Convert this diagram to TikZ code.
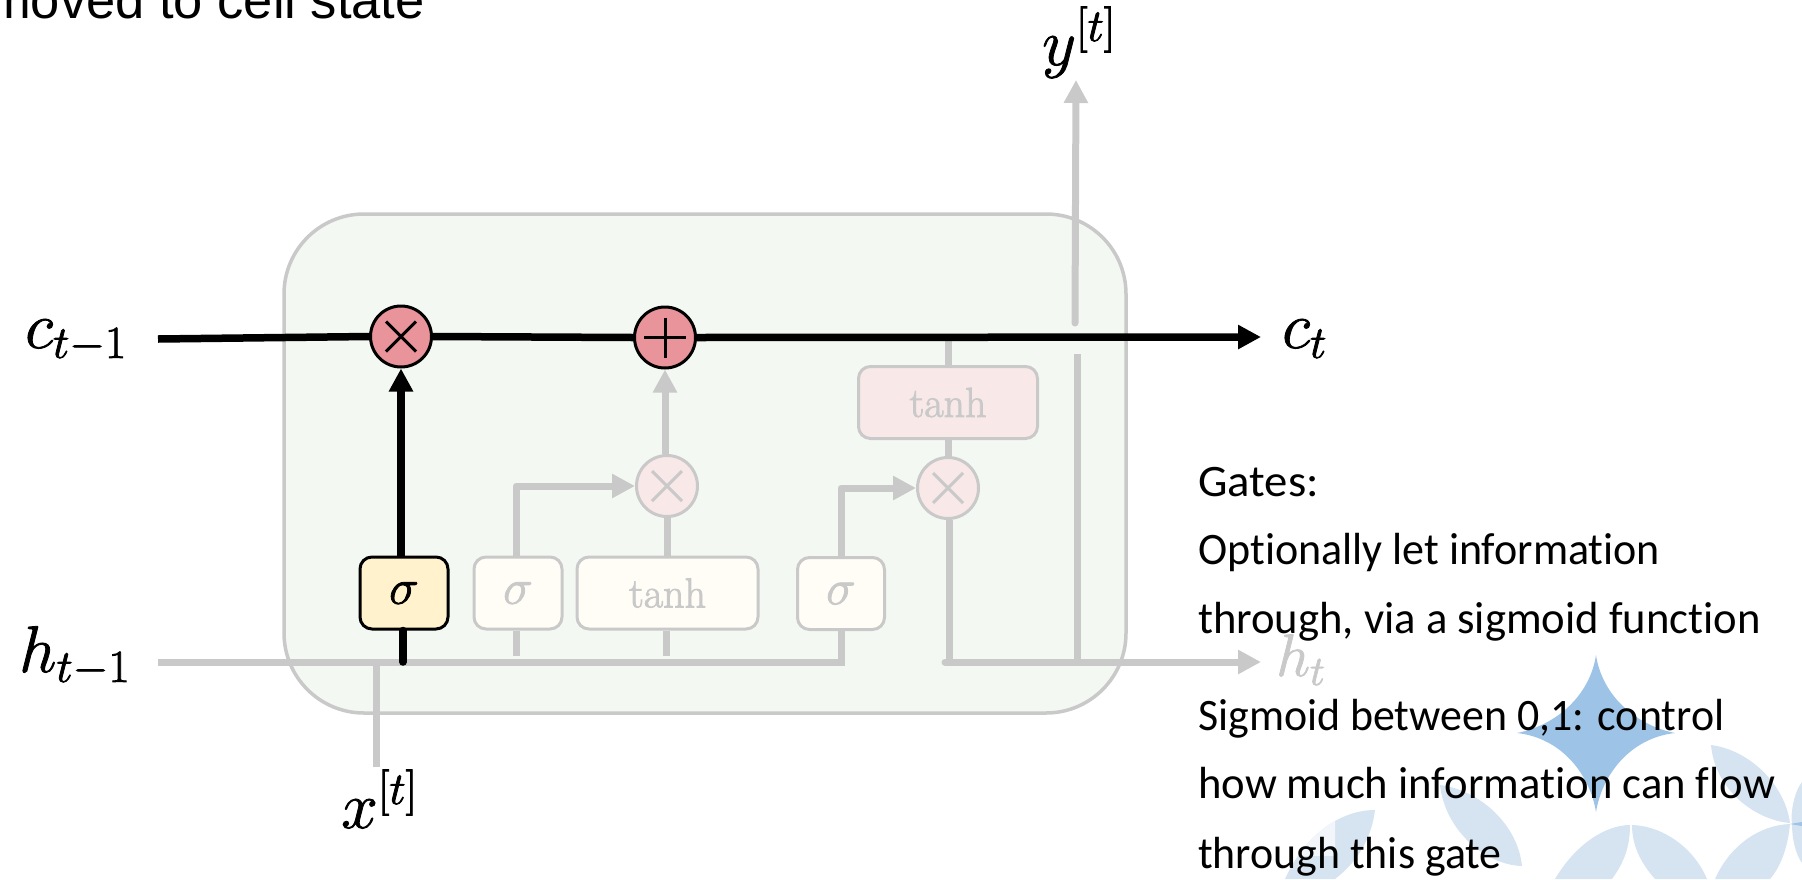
\RequirePackage{fix-cm}
\documentclass[tikz,border=0pt]{standalone}
\usepackage{graphicx}
\usepackage{fontspec}
\newfontfamily\bodyfont[Ligatures=NoCommon]{Carlito}
\newfontfamily\headfont{Liberation Sans}
\usetikzlibrary{arrows.meta}
\DeclareMathSizes{66}{66}{46}{34}
\DeclareMathSizes{60}{60}{42}{30}
\definecolor{fade}{HTML}{C9C9C9}
\definecolor{cellfill}{HTML}{F3F8F2}
\definecolor{opred}{HTML}{E9939A}
\definecolor{palered}{HTML}{F9E8E8}
\definecolor{gold}{HTML}{FFF2CC}
\definecolor{palegold}{HTML}{FFFDF5}
\definecolor{petal}{HTML}{D6E4F1}
\definecolor{petallight}{HTML}{F2F6FB}
\definecolor{starblue}{HTML}{9DC3E6}
% glyphs drawn with a thin outline so the large math letters gain weight
\newcommand{\inked}[1]{\special{pdf: code 2 Tr 0.8 w}#1\special{pdf: code 0 Tr}}
% one line of the note, set to a given width at the natural height
\newcommand{\fitline}[2]{\resizebox{#1}{\height}{#2}}
\tikzset{
  x=1pt,y=-1pt,
  gatebox/.style={draw,rounded corners=12pt,line width=3pt,inner sep=0pt,minimum height=72pt,align=center},
  activebox/.style={gatebox,draw=black,fill=gold,text=black},
  fadedbox/.style={gatebox,draw=fade,fill=palegold,text=fade},
  redbox/.style={gatebox,draw=fade,fill=palered,text=fade},
  opnode/.style={draw,circle,line width=3pt,minimum size=61pt,inner sep=0pt},
  activeop/.style={opnode,draw=black,fill=opred},
  fadedop/.style={opnode,draw=fade,fill=palered},
  blackline/.style={line width=7.5pt,draw=black},
  greyline/.style={line width=7pt,draw=fade},
  blackarrow/.style={blackline,-{Triangle[width=23pt,length=23pt]}},
  greyarrow/.style={greyline,-{Triangle[width=23pt,length=23pt]}},
  mathlabel/.style={inner sep=0pt,anchor=base west,font=\fontsize{66}{72}\selectfont},
  gatesym/.style={font=\fontsize{50}{56}\selectfont},
  gateword/.style={font=\fontsize{42}{48}\selectfont},
  noteline/.style={anchor=base west,inner sep=0pt,font=\bodyfont\fontsize{45}{50}\selectfont},
  petalshape/.style={fill=petal,draw=none}
}
\begin{document}
\begin{tikzpicture}
\useasboundingbox (0,0) rectangle (1802,879);

% decorative star and petals behind the note
\fill[starblue] (1596,655) .. controls (1602,695) and (1635,725) .. (1675,733)
  .. controls (1630,738) and (1602,775) .. (1596,812)
  .. controls (1590,775) and (1562,738) .. (1517,733)
  .. controls (1557,725) and (1590,695) .. (1596,655) -- cycle;
\fill[petalshape] (1711,745) .. controls (1750,750) and (1785,785) .. (1790,823)
  .. controls (1755,820) and (1715,790) .. (1711,745) -- cycle;
\fill[petalshape] (1440,785) .. controls (1480,790) and (1518,825) .. (1522,866)
  .. controls (1485,865) and (1445,830) .. (1440,785) -- cycle;
\fill[petalshape] (1555,879) .. controls (1575,845) and (1605,825) .. (1630,825)
  .. controls (1630,850) and (1622,865) .. (1612,879) -- cycle;
\fill[petalshape] (1632,825) .. controls (1665,826) and (1695,850) .. (1707,879)
  -- (1655,879) .. controls (1640,862) and (1632,845) .. (1632,825) -- cycle;
\fill[petalshape] (1715,879) .. controls (1730,845) and (1760,825) .. (1790,824)
  .. controls (1788,845) and (1782,865) .. (1770,879) -- cycle;
\fill[petalshape] (1792,824) .. controls (1790,812) and (1795,790) .. (1802,782)
  -- (1802,863) .. controls (1796,855) and (1792,840) .. (1792,824) -- cycle;
\fill[starblue] (1790,824) -- (1802,822) -- (1802,826) -- cycle;
\fill[petalshape] (1375,810) .. controls (1340,810) and (1305,835) .. (1285,879)
  -- (1335,879) .. controls (1360,860) and (1372,835) .. (1375,810) -- cycle;
\begin{scope}
  \clip (1270,800) rectangle (1335,855);
  \fill[petallight] (1375,810) .. controls (1340,810) and (1305,835) .. (1285,879)
    -- (1335,879) .. controls (1360,860) and (1372,835) .. (1375,810) -- cycle;
\end{scope}

% slide heading running off the top edge
\node[anchor=base east,inner sep=0pt,font=\headfont\fontsize{52.5}{60}\selectfont] (heading) at (425,18) {moved to cell state};

% LSTM cell body
\node[draw=fade,fill=cellfill,line width=3.5pt,rounded corners=80pt,minimum width=842pt,minimum height=499pt,inner sep=0pt] (cell) at (705,463.5) {};

% operators
\node[activeop] (forgetop) at (401,336.5) {};
\node[activeop] (addop) at (665,337.5) {};
\node[fadedop] (inputop) at (667,486) {};
\node[fadedop] (outputop) at (948,488) {};
\draw[line width=3pt,black] (386,321.5) -- (416,351.5) (386,351.5) -- (416,321.5);
\draw[line width=3pt,black] (644,337.5) -- (686,337.5) (665,317.5) -- (665,357.5);
\draw[line width=3pt,fade] (652,471) -- (682,501) (652,501) -- (682,471);
\draw[line width=3pt,fade] (933,473) -- (963,503) (933,503) -- (963,473);

% gate layers
\node[activebox,minimum width=88pt,gatesym] (forgetgate) at (404,593) {\inked{$\sigma$}};
\node[fadedbox,minimum width=88pt,gatesym] (inputgate) at (518,593) {\inked{$\sigma$}};
\node[fadedbox,minimum width=181pt,gateword] (candidate) at (667.5,593) {\inked{tanh}};
\node[fadedbox,minimum width=87pt,gatesym] (outputgate) at (841,593.5) {\inked{$\sigma$}};
\node[redbox,minimum width=179pt,gateword] (outtanh) at (948,402.5) {\inked{tanh}};

% free ends of the connectors
\coordinate (cstart) at (158,339);
\coordinate (cend) at (1261,337);
\coordinate (hstart) at (158,662);
\coordinate (hbend) at (841,662);
\coordinate (hnext) at (945,662);
\coordinate (hend) at (1261,662);
\coordinate (xstart) at (376.5,767);
\coordinate (xjoin) at (376.5,662);
\coordinate (forgetfoot) at (403,662);
\coordinate (inputfoot) at (516,656);
\coordinate (candfoot) at (666,656);
\coordinate (inputcorner) at (516,486);
\coordinate (outcorner) at (841,488);
\coordinate (outfoot) at (949,662);
\coordinate (ylow) at (1077,662);
\coordinate (ygapbelow) at (1077,354);
\coordinate (ygapabove) at (1075,323);
\coordinate (ytop) at (1076,80);

% grey paths
\draw[greyline] (hstart) -- (hbend) -- (hbend |- outputgate.south);
\draw[greyline] (xstart) -- (xjoin);
\draw[greyline] (inputgate.south -| inputfoot) -- (inputfoot);
\draw[greyline] (candidate.south -| candfoot) -- (candfoot);
\draw[greyarrow,line join=round] (inputgate.north -| inputcorner) -- (inputcorner) -- (inputop.west);
\draw[greyarrow,line join=round] (outputgate.north -| outcorner) -- (outcorner) -- (outputop.west);
\draw[greyarrow] (inputop.north -| addop) -- (addop.south);
\draw[greyline] (candidate.north -| inputop) -- (inputop.south);
\draw[greyline] (outputop.south -| outfoot) -- (outfoot);
\draw[greyarrow,line cap=round] (hnext) -- (hend);
\draw[greyline] (ylow) -- (ygapbelow);
\draw[greyarrow,line cap=round] (ygapabove) -- (ytop);
\draw[greyline] (outtanh.south) -- (outputop.north);
\draw[greyline] (outtanh.north) -- (outtanh.north |- cend);

% active cell-state path and forget gate
\draw[blackline] (cstart) -- (forgetop.west);
\draw[blackline] (forgetop.east) -- (addop.west);
\draw[blackarrow] (addop.east) -- (cend);
\draw[blackarrow] (forgetgate.north -| forgetop) -- (forgetop.south);
\draw[blackline,line cap=round] (forgetgate.south -| forgetfoot) -- (forgetfoot);

% signal labels
\node[mathlabel] (cprev) at (25,348) {\inked{$c_{t-1}$}};
\node[mathlabel] (hprev) at (19,672) {\inked{$h_{t-1}$}};
\node[mathlabel] (xin) at (341,828) {\inked{$x^{[t]}$}};
\node[mathlabel] (yout) at (1042,65) {\inked{$y^{[t]}$}};
\node[mathlabel] (cnext) at (1282,348) {\inked{$c_t$}};
\node[mathlabel,text=fade,font=\fontsize{60}{72}\selectfont] (hnextlabel) at (1276,676) {\inked{$h_t$}};

% note on gates
\node[noteline] (note1) at (1198,496) {\fitline{120.6pt}{Gates:}};
\node[noteline] (note2) at (1198,564) {\fitline{462pt}{Optionally let information}};
\node[noteline] (note3) at (1198,633) {\fitline{562.6pt}{through, via a sigmoid function}};
\node[noteline] (note4) at (1198,730) {\fitline{526pt}{Sigmoid between 0,1: control}};
\node[noteline] (note5) at (1198,798) {\fitline{577pt}{how much information can flow}};
\node[noteline] (note6) at (1198,868) {\fitline{303.5pt}{through this gate}};
\end{tikzpicture}
\end{document}
